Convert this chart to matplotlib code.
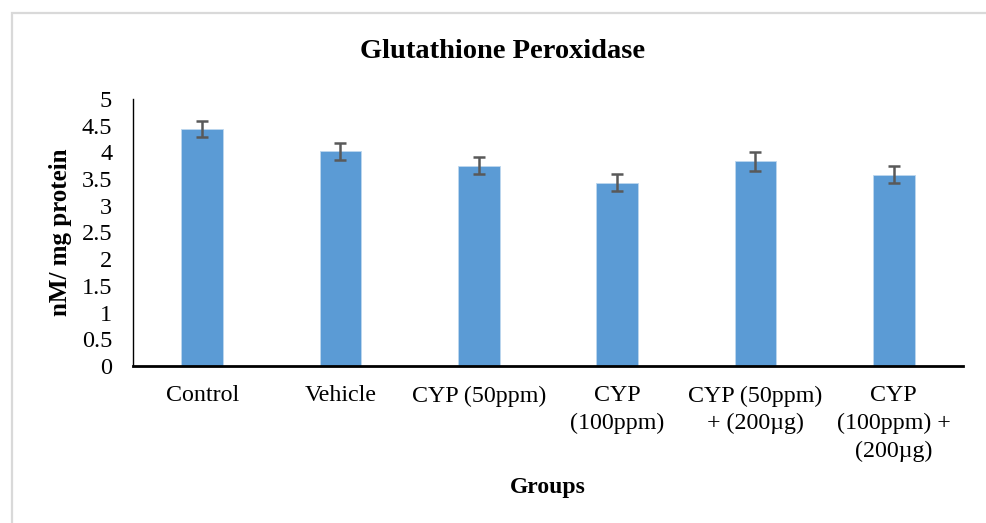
import matplotlib
matplotlib.use("Agg")
import matplotlib.pyplot as plt
from matplotlib.patches import Rectangle

categories = ["Control", "Vehicle", "CYP (50ppm)", "CYP\n(100ppm)",
              "CYP (50ppm)\n+ (200µg)", "CYP\n(100ppm) +\n(200µg)"]
values = [4.44, 4.02, 3.75, 3.43, 3.83, 3.58]
errors = [0.15, 0.16, 0.16, 0.16, 0.17, 0.16]
yticks = [0, 0.5, 1, 1.5, 2, 2.5, 3, 3.5, 4, 4.5, 5]
yticklabels = ["0", "0.5", "1", "1.5", "2", "2.5", "3", "3.5", "4", "4.5", "5"]

plt.rcParams['font.family'] = ['Liberation Serif', 'DejaVu Serif']

W, H = 987, 523
fig = plt.figure(figsize=(W / 100, H / 100), dpi=100)
fig.patch.set_facecolor("white")

# light gray chart border (left & top visible)
fig.patches.append(Rectangle((12.5 / W, -0.05), 1.2, (H - 12.5) / H + 0.05,
                             transform=fig.transFigure, fill=False,
                             edgecolor="#d9d9d9", linewidth=1.6))

ax = fig.add_axes([133 / W, (H - 366) / H, (963 - 133) / W, (366 - 99) / H])
x = list(range(len(categories)))
ax.bar(x, values, width=0.30, color="#5B9BD5", edgecolor="#BDD7EE",
       linewidth=0.6, zorder=2)
ax.errorbar(x, values, yerr=errors, fmt="none", ecolor="#595959",
            elinewidth=1.8, capsize=4, capthick=1.8, zorder=3)

ax.set_xlim(-0.5, len(categories) - 0.5)
ax.set_ylim(0, 5)
ax.set_yticks(yticks)
ax.set_yticklabels(yticklabels)
ax.set_xticks(x)
ax.set_xticklabels(categories, linespacing=1.4)
ax.tick_params(axis="y", length=0, pad=15, labelsize=17.5)
ax.tick_params(axis="x", length=0, pad=14, labelsize=17.3)
for s in ["top", "right"]:
    ax.spines[s].set_visible(False)
ax.spines["left"].set_linewidth(1.0)
ax.spines["bottom"].set_linewidth(2.0)
ax.spines["left"].set_color("black")
ax.spines["bottom"].set_color("black")

ax.set_ylabel("nM/ mg protein", fontsize=18, fontweight="bold")
ax.yaxis.set_label_coords(-(133 - 72) / (963 - 133), 0.5)

fig.text(503 / W, 1 - 52 / H, "Glutathione Peroxidase", ha="center",
         va="center", fontsize=20.5, fontweight="bold")
fig.text(548 / W, 1 - 488 / H, "Groups", ha="center", va="center",
         fontsize=17, fontweight="bold")

fig.savefig("out.png", dpi=100, facecolor="white")
